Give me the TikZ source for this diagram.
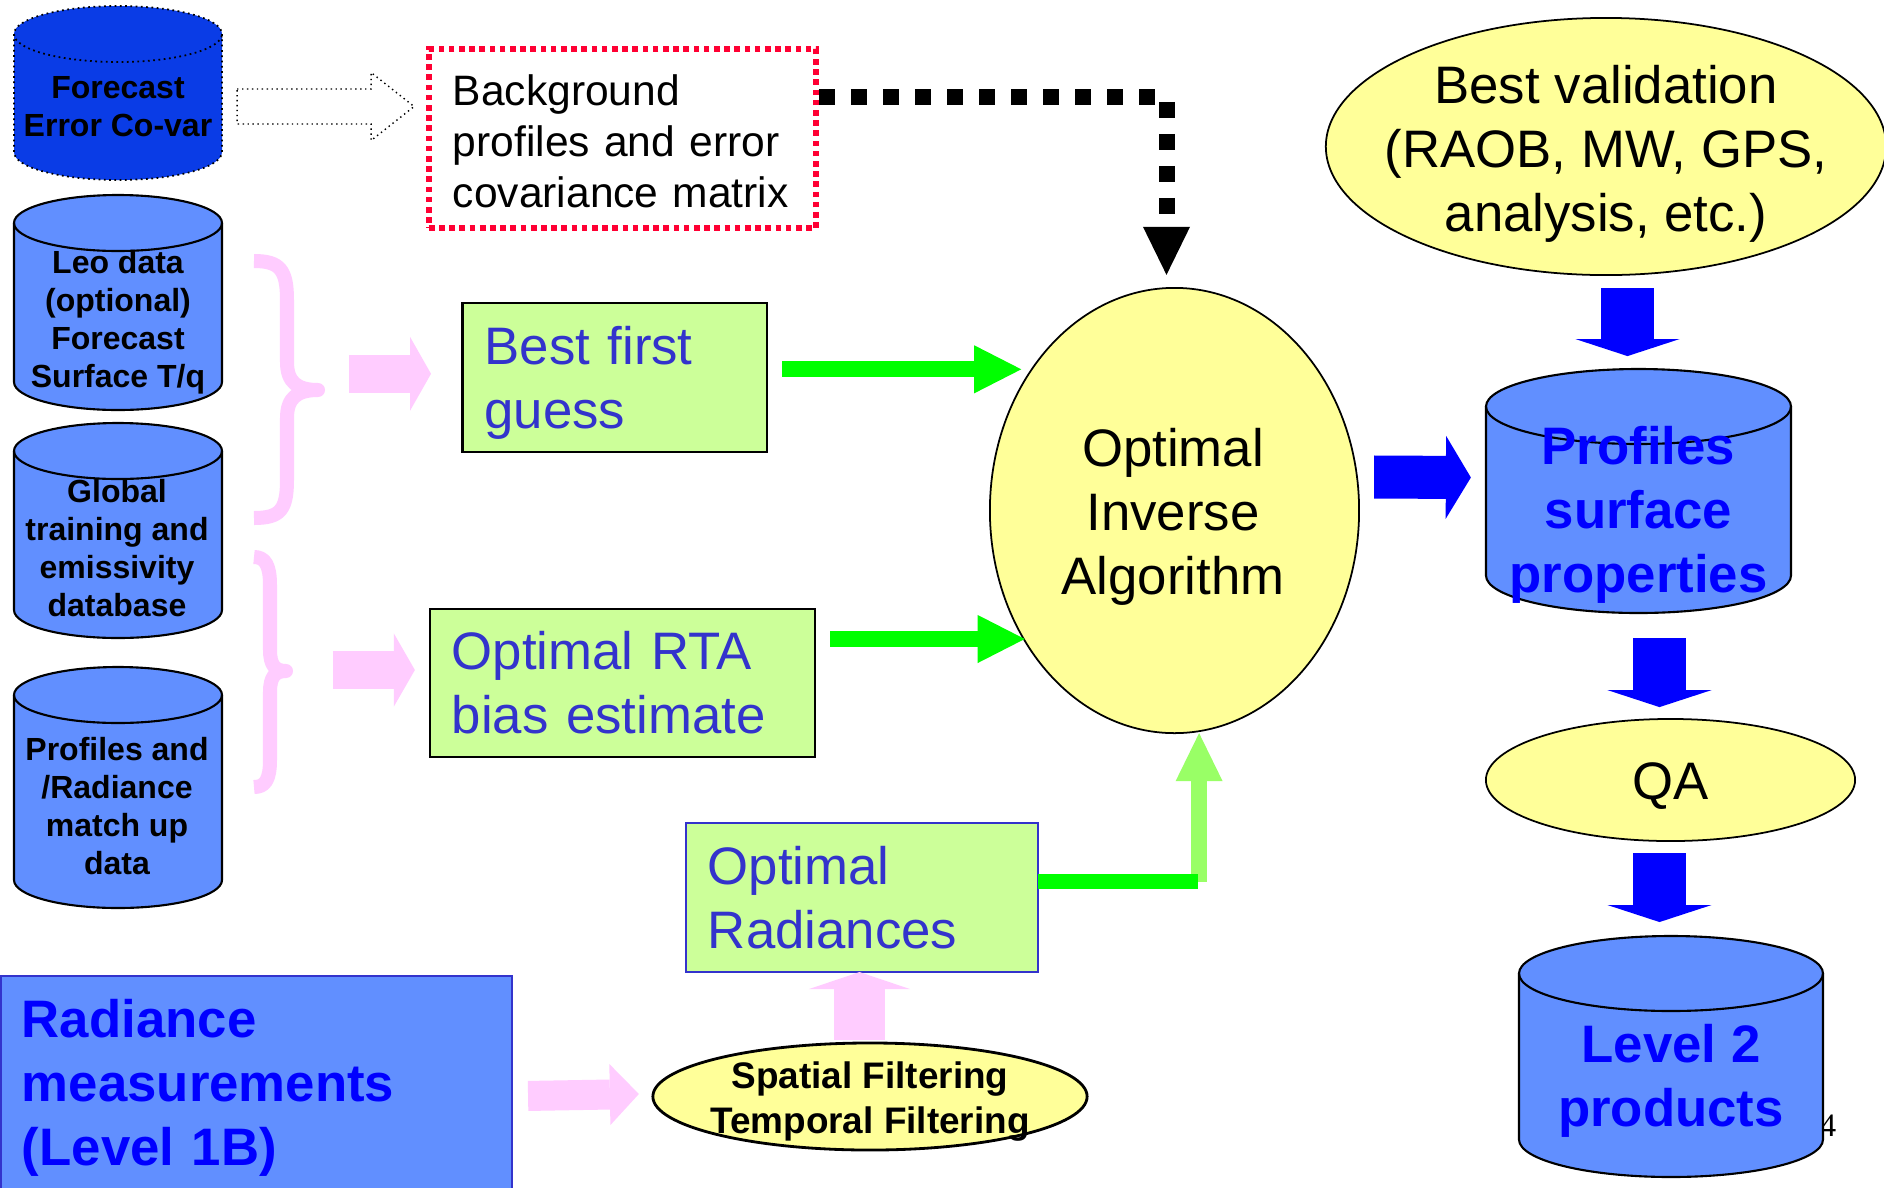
\documentclass[tikz,border=0pt]{standalone}
\usepackage{fontspec}
\setmainfont{Liberation Sans}
\newfontfamily\numfont{Liberation Serif}
\usetikzlibrary{shapes.geometric, arrows.meta, calc}

\definecolor{cylblue}{RGB}{97,143,255}
\definecolor{cyldeep}{RGB}{10,60,230}
\definecolor{boxgreen}{RGB}{204,255,153}
\definecolor{txtblue}{RGB}{51,51,204}
\definecolor{ellyellow}{RGB}{255,255,153}
\definecolor{pinkish}{RGB}{255,204,255}
\definecolor{brightgreen}{RGB}{0,255,0}
\definecolor{lightgreen}{RGB}{153,255,102}
\definecolor{dotred}{RGB}{255,0,51}

% data base cylinder: [style]{name}{x}{y}{half width}{half height}{end radius}, all in px
\newcommand{\dbcyl}[7][cyllight]{%
  \node[inner sep=0pt, outer sep=0pt, minimum width=#5*0.02cm, minimum height=#6*0.02cm] (#2) at (#3,#4) {};
  \path[#1] (#3-#5,#4-#6+#7) -- (#3-#5,#4+#6-#7)
    arc[start angle=180, end angle=360, x radius=#5*0.01cm, y radius=#7*0.01cm]
    -- (#3+#5,#4-#6+#7) arc[start angle=0, end angle=180, x radius=#5*0.01cm, y radius=#7*0.01cm] -- cycle;
  \path[#1, fill=none] (#3-#5,#4-#6+#7) arc[start angle=180, end angle=360, x radius=#5*0.01cm, y radius=#7*0.01cm];
}

\tikzset{
  cyllight/.style={draw=black, line width=0.6pt, fill=cylblue},
  cyldark/.style={draw=black, fill=cyldeep, densely dotted, line width=0.5pt},
  smallbold/.style={font=\fontsize{9.1}{10.8}\selectfont\bfseries, align=center},
  bigbold/.style={font=\fontsize{15}{18.2}\selectfont\bfseries, text=blue, align=center},
  bigtxt/.style={font=\fontsize{15}{18.2}\selectfont, align=center},
  greenbox/.style={rectangle, draw=black, line width=0.6pt, fill=boxgreen, text=txtblue,
    font=\fontsize{15}{18.2}\selectfont, align=left, inner xsep=0.22cm, inner ysep=0pt, outer sep=0pt},
  yellowell/.style={ellipse, draw=black, line width=0.5pt, fill=ellyellow, inner sep=0pt, outer sep=0pt},
  blockarrow/.style n args={3}{line width=#1, -{Triangle[width=#2, length=#3, line width=0pt]}},
  brace/.style={pinkish, line width=0.14cm, line join=round},
}

\begin{document}
\begin{tikzpicture}[x=0.01cm, y=-0.01cm]
\clip (0,0) rectangle (1884,1187);
\fill[white] (0,0) rectangle (1884,1187);

% data bases on the left
\dbcyl[cyldark]{fcst}{118}{93}{104}{87}{28}
\node[smallbold] (fcsttxt) at (118,107) {Forecast\\Error Co-var};
\dbcyl{leo}{118}{302.5}{104}{107.5}{28}
\node[smallbold] (leotxt) at (118,322) {Leo data\\(optional)\\Forecast\\Surface T/q};
\dbcyl{glob}{118}{530.5}{104}{107.5}{28}
\node[smallbold] (globtxt) at (117,548) {Global\\training and\\emissivity\\database};
\dbcyl{match}{118}{787.5}{104}{120.5}{28}
\node[smallbold] (matchtxt) at (117,806) {Profiles and\\/Radiance\\match up\\data};

\node[rectangle, draw=txtblue, line width=0.5pt, fill=cylblue, minimum width=5.11cm, minimum height=2.24cm,
  text width=4.69cm, inner xsep=0.21cm, align=left, text=blue, font=\fontsize{15}{18.2}\selectfont\bfseries,
  anchor=north west] (rad) at (0,975) {Radiance\\measurements\\(Level 1B)};

% middle column
\node[rectangle, draw=dotred, line width=1.6pt, dash pattern=on 1.6pt off 1.3pt, minimum width=3.87cm,
  minimum height=1.79cm, text width=3.39cm, inner xsep=0.24cm, align=left, text height=10.3pt,
  font=\fontsize{12.1}{14.5}\selectfont] (bkg) at (622.5,138.5) {Background\\profiles and error\\covariance matrix};
\node[greenbox, minimum height=1.49cm, text width=2.60cm, text depth=18.2pt] (bfg) at (614.6,377.3) {Best first\\guess};
\node[greenbox, minimum height=1.48cm, text width=3.41cm] (rta) at (622.5,683) {Optimal RTA\\bias estimate};
\node[greenbox, draw=txtblue, minimum height=1.49cm, text width=3.08cm] (orad) at (862,897.5) {Optimal\\Radiances};
\node[yellowell, line width=0.8pt, minimum width=4.34cm, minimum height=1.07cm] (filt) at (870,1096.5) {};
\node[font=\fontsize{10.5}{12.7}\selectfont\bfseries, align=center] (filttxt) at (870,1101.5) {Spatial Filtering\\Temporal Filtering};

\node[yellowell, minimum width=3.69cm, minimum height=4.45cm] (oia) at (1174.5,510.5) {};
\node[bigtxt] (oiatxt) at (1173,517) {Optimal\\Inverse\\Algorithm};

% right column
\node[yellowell, minimum width=5.6cm, minimum height=2.57cm] (bval) at (1606,146.5) {};
\node[bigtxt] (bvaltxt) at (1606,154) {Best validation\\(RAOB, MW, GPS,\\analysis, etc.)};
\dbcyl{prof}{1638.5}{491}{152.5}{122}{37.5}
\node[bigbold] (proftxt) at (1638.5,515) {Profiles\\surface\\properties};
\node[yellowell, minimum width=3.69cm, minimum height=1.22cm, bigtxt] (qa) at (1670.5,780) {};
\node[bigtxt] (qatxt) at (1670.5,786) {QA};
\node[font=\numfont\fontsize{9.3}{11}\selectfont] (pgno) at (1828,1126) {4};
\dbcyl{lev2}{1671}{1056.5}{152}{120.5}{37.5}
\node[bigbold] (lev2txt) at (1671,1081) {Level 2\\products};

% braces
\draw[brace] (254,261) .. controls (280,261) and (287,270) .. (287,300) -- (287,362)
  .. controls (287,382) and (297,390) .. (318,390) .. controls (297,390) and (287,398) .. (287,418)
  -- (287,480) .. controls (287,510) and (280,518) .. (254,518);
\draw[brace] (254,557) .. controls (265,557) and (270,565) .. (270,585) -- (270,650)
  .. controls (270,665) and (275,671) .. (286,671) .. controls (275,671) and (270,677) .. (270,692)
  -- (270,760) .. controls (270,780) and (265,787) .. (254,787);

% arrows
\coordinate (fcout) at ($(fcst.east)+(15,13.5)$);
\draw[densely dotted, line width=0.4pt, fill=white] (fcout) ++(0,-17.5) -- ++(134,0) -- ++(0,-16.5)
  -- ++(43,34) -- ++(-43,34) -- ++(0,-16.5) -- ++(-134,0) -- cycle;
\draw[line width=0.16cm, dash pattern=on 0.16cm off 0.16cm, shorten >=0.13cm,
  -{Triangle[width=0.47cm, length=0.48cm, line width=0pt]}] ($(bkg.north east)+(0,51)$) -| ($(oia.north)+(-8,0)$);

\coordinate (g1) at ($(bfg.east)+(15.5,-8)$);
\draw[brightgreen, blockarrow={0.16cm}{0.48cm}{0.47cm}] (g1) -- (g1 -| oia.141);
\coordinate (g2) at ($(rta.east)+(15,-44)$);
\draw[brightgreen, blockarrow={0.16cm}{0.48cm}{0.47cm}] (g2) -- (g2 -| oia.221);
\coordinate (g3) at ($(orad.east)+(161,-16)$);
\draw[lightgreen, blockarrow={0.16cm}{0.47cm}{0.48cm}] (g3) -- (g3 |- oia.south);
\draw[brightgreen, line width=0.15cm] ($(orad.east)+(0,-16)$) -- ($(g3)+(-1,0)$);

\draw[blue, blockarrow={0.43cm}{0.83cm}{0.25cm}] ($(oia.east)+(15,-33.5)$) -- ($(prof.west)+(-15,-13.5)$);
\draw[blue, blockarrow={0.53cm}{1.04cm}{0.17cm}] ($(bval.south)+(21.5,13)$) -- ++(0,68);
\draw[blue, blockarrow={0.53cm}{1.04cm}{0.17cm}] ($(prof.south)+(21,25)$) -- ++(0,69);
\draw[blue, blockarrow={0.53cm}{1.04cm}{0.17cm}] ($(qa.south)+(-11,12)$) -- ++(0,69);

\draw[pinkish, blockarrow={0.38cm}{0.74cm}{0.21cm}] ($(bfg.west)+(-113.5,-3.5)$) -- ($(bfg.west)+(-31.5,-3.5)$);
\draw[pinkish, blockarrow={0.38cm}{0.73cm}{0.21cm}] ($(rta.west)+(-97,-13)$) -- ($(rta.west)+(-15,-13)$);
\draw[pinkish, blockarrow={0.30cm}{0.61cm}{0.29cm}] ($(rad.east)+(15,8)$) -- ($(filt.west)+(-14,-2.5)$);
\draw[pinkish, blockarrow={0.51cm}{1.01cm}{0.17cm}] ($(filt.north)+(-10.5,-3)$) -- ($(orad.south)+(-2.5,0)$);
\end{tikzpicture}
\end{document}
